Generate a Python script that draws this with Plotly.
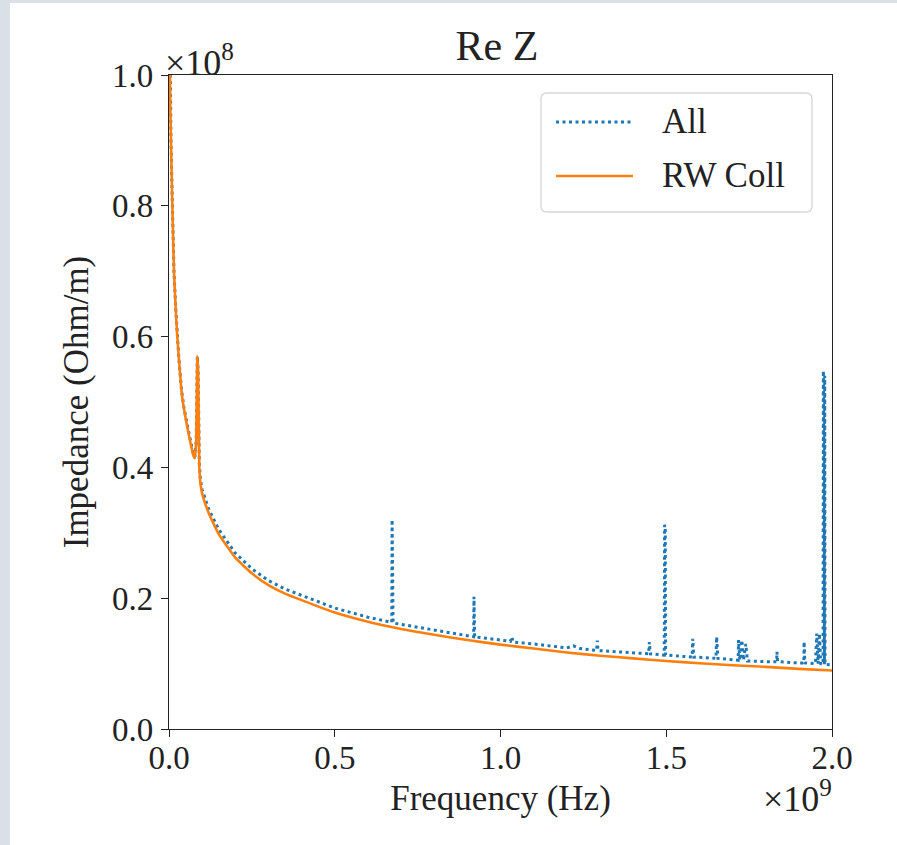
import plotly.graph_objects as go

# ---- data (frequency in units of 1e9 Hz, impedance in units of 1e8 Ohm/m) ----
rw_freq_ghz = [0.002, 0.003, 0.004, 0.006, 0.008, 0.010, 0.0125, 0.015, 0.020, 0.025, 0.030,
               0.038, 0.045, 0.055, 0.065, 0.073, 0.078,
               0.082, 0.0855, 0.088, 0.0915, 0.095, 0.10, 0.12, 0.15, 0.20, 0.25, 0.30, 0.35,
               0.40, 0.50, 0.60, 0.70, 0.80, 0.90, 1.00, 1.10, 1.20, 1.30, 1.40, 1.50,
               1.60, 1.70, 1.80, 1.90, 2.00]
rw_z_1e8 = [1.10, 1.00, 0.95, 0.90, 0.85, 0.80, 0.75, 0.70, 0.645, 0.60, 0.565,
            0.515, 0.49, 0.462, 0.437, 0.419, 0.414,
            0.44, 0.57, 0.545, 0.40, 0.375, 0.36, 0.33, 0.298, 0.262, 0.238, 0.220, 0.207,
            0.197, 0.178, 0.164, 0.153, 0.144, 0.136, 0.129, 0.123, 0.117, 0.112, 0.108, 0.104,
            0.1005, 0.0975, 0.095, 0.092, 0.0895]

all_freq_ghz = [0.002, 0.003, 0.004, 0.006, 0.008, 0.010, 0.0125, 0.015, 0.020, 0.025, 0.030,
                0.038, 0.045, 0.055, 0.065, 0.073, 0.078,
                0.082, 0.0855, 0.088, 0.0915, 0.095, 0.10, 0.12, 0.15, 0.20, 0.25, 0.30, 0.35,
                0.40, 0.50, 0.60, 0.672, 0.673, 0.674, 0.675, 0.676, 0.677, 0.70, 0.80, 0.90,
                0.919, 0.920, 0.921, 0.922, 1.00, 1.030, 1.034, 1.038, 1.10, 1.20, 1.22, 1.24,
                1.29, 1.292, 1.294, 1.40, 1.447, 1.449, 1.452,
                1.494, 1.495, 1.496, 1.497, 1.498, 1.499,
                1.55, 1.578, 1.580, 1.583, 1.62, 1.650, 1.652, 1.656, 1.70,
                1.717, 1.718, 1.722, 1.728, 1.733, 1.740, 1.745, 1.80,
                1.833, 1.834, 1.836, 1.90, 1.915, 1.916, 1.918,
                1.950, 1.954, 1.958, 1.962, 1.966, 1.973,
                1.974, 1.975, 1.976, 1.977, 1.978, 1.979, 2.00]
all_z_1e8 = [1.10, 1.00, 0.95, 0.90, 0.85, 0.80, 0.75, 0.70, 0.645, 0.60, 0.565,
             0.517, 0.492, 0.465, 0.440, 0.421, 0.416,
             0.44, 0.57, 0.545, 0.405, 0.38, 0.366, 0.336, 0.305, 0.269, 0.245, 0.227, 0.214,
             0.204, 0.185, 0.171, 0.163, 0.320, 0.163, 0.318, 0.163, 0.162, 0.160, 0.151, 0.143,
             0.141, 0.2023, 0.170, 0.141, 0.136, 0.134, 0.141, 0.133, 0.130, 0.124, 0.127, 0.123,
             0.120, 0.135, 0.120, 0.116, 0.115, 0.133, 0.115,
             0.113, 0.312, 0.113, 0.310, 0.113, 0.113,
             0.111, 0.110, 0.138, 0.110, 0.109, 0.108, 0.141, 0.108, 0.106,
             0.105, 0.136, 0.105, 0.136, 0.105, 0.130, 0.104, 0.103,
             0.103, 0.118, 0.103, 0.101, 0.101, 0.1335, 0.101,
             0.100, 0.146, 0.100, 0.146, 0.100, 0.099,
             0.548, 0.099, 0.546, 0.099, 0.540, 0.099, 0.098]

x_ticks = [0.0, 0.5, 1.0, 1.5, 2.0]
x_tick_labels = ["0.0", "0.5", "1.0", "1.5", "2.0"]
y_ticks = [0.0, 0.2, 0.4, 0.6, 0.8, 1.0]
y_tick_labels = ["0.0", "0.2", "0.4", "0.6", "0.8", "1.0"]

series_names = ["All", "RW Coll"]

FONT = "Liberation Serif"
BLUE = "#1f77b4"
ORANGE = "#ff7f0e"
TXT = "#222"
L, R, T, B = 169, 832, 75, 729
W, H = 897, 845
DOT = "3px,3.5px"


def px(x):
    return (x - L) / (R - L)


def py(y):
    return (B - y) / (B - T)


fig = go.Figure()
fig.add_trace(go.Scatter(x=[f * 1e9 for f in all_freq_ghz], y=[z * 1e8 for z in all_z_1e8],
                         mode="lines", name=series_names[0],
                         line=dict(color=BLUE, width=3.0, dash=DOT), showlegend=False))
fig.add_trace(go.Scatter(x=[f * 1e9 for f in rw_freq_ghz], y=[z * 1e8 for z in rw_z_1e8],
                         mode="lines", name=series_names[1],
                         line=dict(color=ORANGE, width=2.6, shape="spline", smoothing=0.4),
                         showlegend=False))

axis_common = dict(showline=True, linecolor=TXT, linewidth=1.4, mirror=True,
                   ticks="outside", ticklen=7, tickwidth=1.4, tickcolor=TXT,
                   showgrid=False, zeroline=False,
                   tickfont=dict(family=FONT, size=33, color=TXT))

fig.update_xaxes(range=[0, 2e9], tickvals=[t * 1e9 for t in x_ticks], ticktext=x_tick_labels,
                 title=dict(text="Frequency (Hz)", font=dict(family=FONT, size=35, color=TXT),
                            standoff=10),
                 ticklabelstandoff=-8,
                 **axis_common)
fig.update_yaxes(range=[0, 1e8], tickvals=[t * 1e8 for t in y_ticks], ticktext=y_tick_labels,
                 title=dict(text="Impedance (Ohm/m)", font=dict(family=FONT, size=35, color=TXT),
                            standoff=12),
                 ticklabelstandoff=1,
                 **axis_common)

shapes = []
# page background: grey strips on left and top
shapes.append(dict(type="rect", xref="paper", yref="paper", layer="below",
                   x0=px(10), x1=px(W + 20), y0=py(H + 20), y1=py(3),
                   fillcolor="white", line=dict(width=0)))
# legend frame (rounded)
lx0, lx1, ly0, ly1 = px(541), px(812), py(212), py(93)
rx, ry = 6 / (R - L), 6 / (B - T)
path = (f"M{lx0 + rx},{ly0} L{lx1 - rx},{ly0} Q{lx1},{ly0} {lx1},{ly0 + ry} "
        f"L{lx1},{ly1 - ry} Q{lx1},{ly1} {lx1 - rx},{ly1} L{lx0 + rx},{ly1} "
        f"Q{lx0},{ly1} {lx0},{ly1 - ry} L{lx0},{ly0 + ry} Q{lx0},{ly0} {lx0 + rx},{ly0} Z")
shapes.append(dict(type="path", xref="paper", yref="paper", path=path,
                   fillcolor="rgba(255,255,255,0.8)", line=dict(color="#d6d6d6", width=1.3)))
shapes.append(dict(type="line", xref="paper", yref="paper", x0=px(556), x1=px(633),
                   y0=py(122), y1=py(122), line=dict(color=BLUE, width=3.0, dash=DOT)))
shapes.append(dict(type="line", xref="paper", yref="paper", x0=px(556), x1=px(633),
                   y0=py(176), y1=py(176), line=dict(color=ORANGE, width=2.6)))

annotations = [
    dict(text=series_names[0], xref="paper", yref="paper", x=px(660), y=py(121),
         xanchor="left", yanchor="middle", showarrow=False,
         font=dict(family=FONT, size=35, color=TXT)),
    dict(text=series_names[1], xref="paper", yref="paper", x=px(660), y=py(175),
         xanchor="left", yanchor="middle", showarrow=False,
         font=dict(family=FONT, size=35, color=TXT)),
    dict(text="×10<sup>8</sup>", xref="paper", yref="paper", x=px(163), y=py(85),
         xanchor="left", yanchor="bottom", showarrow=False,
         font=dict(family=FONT, size=36, color=TXT)),
    dict(text="×10<sup>9</sup>", xref="paper", yref="paper", x=px(834), y=py(821),
         xanchor="right", yanchor="bottom", showarrow=False,
         font=dict(family=FONT, size=36, color=TXT)),
]

fig.update_layout(
    width=W, height=H,
    margin=dict(l=L, r=W - R, t=T, b=H - B),
    paper_bgcolor="#d9e0e7", plot_bgcolor="white",
    title=dict(text="Re Z", xref="container", x=497 / W, xanchor="center",
               yref="container", y=1 - 45 / H, yanchor="middle",
               font=dict(family=FONT, size=42, color=TXT)),
    shapes=shapes, annotations=annotations,
    showlegend=False,
)

fig.write_html("out.html", config={"displayModeBar": False},
               post_script="document.body.style.margin='0px';")
